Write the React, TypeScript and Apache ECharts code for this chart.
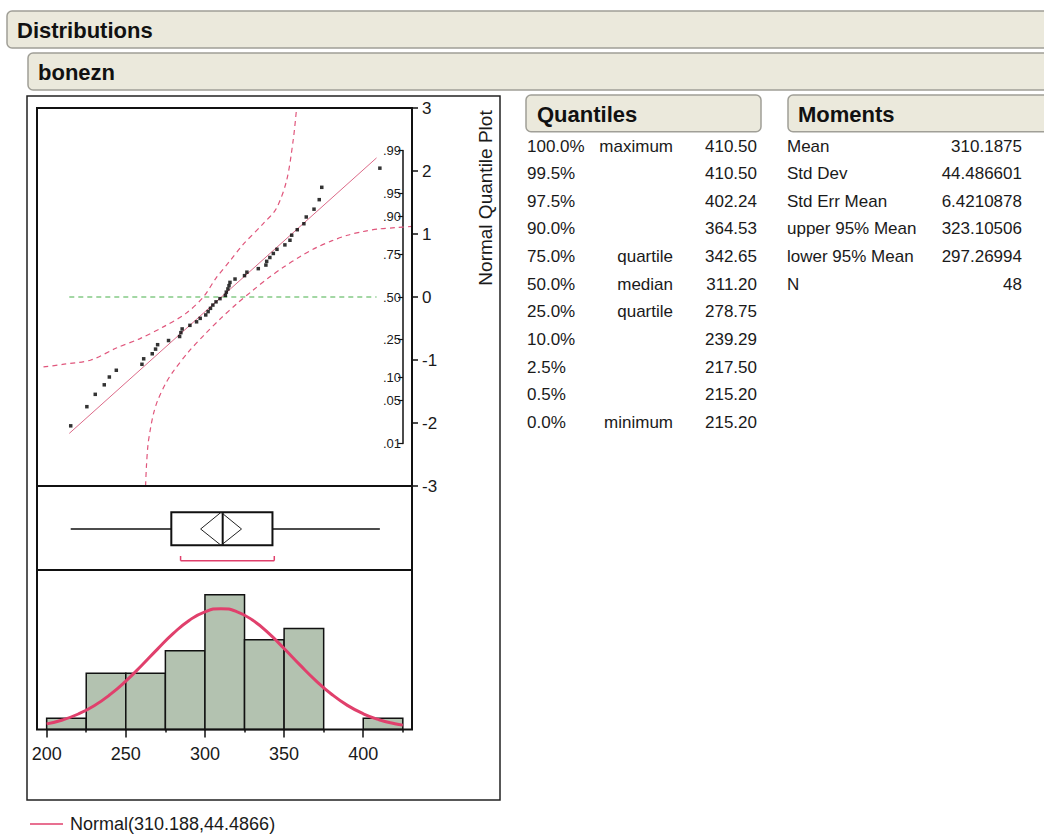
import React, { useEffect, useRef } from 'react';
import * as echarts from 'echarts';

// ---------- axes ----------
const xMin = 193.9;
const xMax = 430.8;
const xTickValues = [200, 250, 300, 350, 400];
const xMinorTickValues = [225, 275, 325, 375, 425];
const probLabels = ['.01', '.05', '.10', '.25', '.50', '.75', '.90', '.95', '.99'];
const probZ = [-2.326, -1.645, -1.282, -0.674, 0, 0.674, 1.282, 1.645, 2.326];

// ---------- normal quantile plot ----------
const qqValues = [
  215.2, 225.4, 230.7, 236.4, 239.6, 244.0, 260.2, 261.3, 266.7, 268.8, 270.1, 277.0,
  284.0, 284.8, 285.6, 290.5, 294.7, 297.0, 300.5, 302.0, 303.5, 305.0, 307.0, 309.5,
  312.9, 313.5, 314.5, 315.2, 315.8, 319.0, 325.0, 326.5, 333.7, 338.5, 339.0, 341.0,
  343.2, 345.5, 350.5, 353.7, 354.8, 358.3, 362.5, 364.0, 368.9, 372.2, 373.8, 410.5,
];
const qqScores = [
  -2.045, -1.741, -1.545, -1.394, -1.27, -1.163, -1.068, -0.981, -0.901, -0.827, -0.757, -0.691,
  -0.627, -0.566, -0.507, -0.45, -0.394, -0.339, -0.285, -0.232, -0.18, -0.128, -0.077, -0.026,
  0.026, 0.077, 0.128, 0.18, 0.232, 0.285, 0.339, 0.394, 0.45, 0.507, 0.566, 0.627,
  0.691, 0.757, 0.827, 0.901, 0.981, 1.068, 1.163, 1.27, 1.394, 1.545, 1.741, 2.045,
];
const fitLineX = [214.3, 408.4];
const fitLineZ = [-2.165, 2.208];
const refLineZ = [0, 0];
const upperBandX = [198, 210, 228, 244, 259, 274, 288, 299, 307, 316, 324, 337, 345, 351.6, 355.8, 357.9];
const upperBandZ = [-1.11, -1.07, -1.0, -0.81, -0.66, -0.47, -0.26, 0.0, 0.3, 0.58, 0.83, 1.17, 1.4, 1.85, 2.5, 3.0];
const lowerBandX = [262.5, 263, 264, 265.5, 267.5, 270, 275, 280, 290, 300, 310, 320, 330, 340, 350, 360, 370, 380, 390, 400, 410, 420, 430.8];
const lowerBandZ = [-3.0, -2.7, -2.35, -2.1, -1.85, -1.65, -1.38, -1.18, -0.86, -0.59, -0.34, -0.11, 0.1, 0.3, 0.48, 0.64, 0.78, 0.89, 0.98, 1.04, 1.08, 1.1, 1.12];

// ---------- outlier box plot ----------
const boxFive = [215.2, 278.75, 311.2, 342.65, 410.5]; // min, q1, median, q3, max
const meanDiamond = [297.26994, 310.1875, 323.10506]; // lower95, mean, upper95
const shortestHalf = [284.6, 343.8];

// ---------- histogram ----------
const binStarts = [200, 225, 250, 275, 300, 325, 350, 375, 400];
const binEnds = [225, 250, 275, 300, 325, 350, 375, 400, 425];
const binCounts = [1, 5, 5, 7, 12, 8, 9, 0, 1];
const histMax = 14.2;
const normalX = [200, 210, 220, 230, 240, 250, 260, 270, 280, 290, 300, 310, 320, 330, 340, 350, 360, 370, 380, 390, 400, 410, 420, 425];
const normalY = [0.5, 0.85, 1.38, 2.12, 3.1, 4.31, 5.7, 7.16, 8.55, 9.71, 10.48, 10.76, 10.5, 9.74, 8.6, 7.21, 5.75, 4.36, 3.14, 2.15, 1.4, 0.87, 0.51, 0.39];

// ---------- tables ----------
const quantilePct = ['100.0%', '99.5%', '97.5%', '90.0%', '75.0%', '50.0%', '25.0%', '10.0%', '2.5%', '0.5%', '0.0%'];
const quantileLabel = ['maximum', '', '', '', 'quartile', 'median', 'quartile', '', '', '', 'minimum'];
const quantileValue = ['410.50', '410.50', '402.24', '364.53', '342.65', '311.20', '278.75', '239.29', '217.50', '215.20', '215.20'];
const momentNames = ['Mean', 'Std Dev', 'Std Err Mean', 'upper 95% Mean', 'lower 95% Mean', 'N'];
const momentValues = ['310.1875', '44.486601', '6.4210878', '323.10506', '297.26994', '48'];
const legendLabel = 'Normal(310.188,44.4866)';

const FONT = '"Liberation Sans", Arial, sans-serif';
const PINK = '#e0406c';

function zip(a: number[], b: number[]) {
  return a.map((v, i) => [v, b[i]]);
}

function headerBar(x: number, y: number, w: number, h: number, label: string, tx: number) {
  return [
    {
      type: 'rect',
      shape: { x, y, width: w, height: h, r: 5 },
      style: { fill: '#ebe9dc', stroke: '#a09f97', lineWidth: 1.5 },
      z: 20,
    },
    {
      type: 'text',
      x: tx,
      y: y + h / 2 + 1,
      style: {
        text: label,
        font: `bold 22px ${FONT}`,
        fill: '#111',
        textAlign: 'left',
        textVerticalAlign: 'middle',
      },
      z: 21,
    },
  ];
}

export default function App() {
  const ref = useRef<HTMLDivElement>(null);

  useEffect(() => {
    if (!ref.current) return;
    const chart = echarts.init(ref.current, undefined, { renderer: 'svg' });

    const rowY = (i: number) => 146 + 27.65 * i;
    const textEl = (x: number, y: number, text: string, align: string, size = 17, bold = false) => ({
      type: 'text',
      x,
      y,
      style: {
        text,
        font: `${bold ? 'bold ' : ''}${size}px ${FONT}`,
        fill: '#1a1a1a',
        textAlign: align,
        textVerticalAlign: 'middle',
      },
      z: 21,
    });

    const tableEls: any[] = [];
    quantilePct.forEach((p, i) => {
      tableEls.push(textEl(527, rowY(i), p, 'left'));
      if (quantileLabel[i]) tableEls.push(textEl(673, rowY(i), quantileLabel[i], 'right'));
      tableEls.push(textEl(757, rowY(i), quantileValue[i], 'right'));
    });
    momentNames.forEach((m, i) => {
      tableEls.push(textEl(787, rowY(i), m, 'left'));
      tableEls.push(textEl(1022, rowY(i), momentValues[i], 'right'));
    });

    const histData = binStarts.map((s, i) => [s, binEnds[i], binCounts[i]]);

    const option: any = {
      animation: false,
      backgroundColor: '#ffffff',
      grid: [
        { left: 37, top: 108, width: 375, height: 378 },
        { left: 37, top: 486, width: 375, height: 84 },
        { left: 37, top: 570, width: 375, height: 159.5 },
        { left: 403, top: 150.5, width: 1, height: 293 },
      ],
      xAxis: [
        { gridIndex: 0, type: 'value', min: xMin, max: xMax, show: false },
        { gridIndex: 1, type: 'value', min: xMin, max: xMax, show: false },
        {
          gridIndex: 2,
          type: 'value',
          min: xMin,
          max: xMax,
          axisLine: { show: false },
          splitLine: { show: false },
          axisTick: { show: true, customValues: xTickValues, length: 8, lineStyle: { color: '#111', width: 1.5 } },
          axisLabel: { customValues: xTickValues, fontSize: 18, fontFamily: FONT, color: '#1a1a1a', margin: 15 },
        },
        {
          gridIndex: 2,
          type: 'value',
          min: xMin,
          max: xMax,
          position: 'bottom',
          axisLine: { show: false },
          splitLine: { show: false },
          axisTick: { show: true, customValues: xMinorTickValues, length: 3, lineStyle: { color: '#111', width: 1.5 } },
          axisLabel: { show: false },
        },
        { gridIndex: 3, type: 'value', min: 0, max: 1, show: false },
      ],
      yAxis: [
        {
          gridIndex: 0,
          type: 'value',
          min: -3,
          max: 3,
          interval: 1,
          position: 'right',
          axisLine: { show: true, lineStyle: { color: '#111', width: 1.5 } },
          axisTick: { show: true, length: 6, lineStyle: { color: '#111', width: 1.5 } },
          axisLabel: { fontSize: 17, fontFamily: FONT, color: '#1a1a1a', margin: 10 },
          splitLine: { show: false },
        },
        { gridIndex: 1, type: 'value', min: 0, max: 1, show: false },
        { gridIndex: 2, type: 'value', min: 0, max: histMax, show: false },
        {
          gridIndex: 3,
          type: 'value',
          min: -2.326,
          max: 2.326,
          position: 'left',
          axisLine: { show: true, lineStyle: { color: '#111', width: 1.5 } },
          axisTick: { show: true, customValues: probZ, length: 5, lineStyle: { color: '#111', width: 1.2 } },
          axisLabel: {
            customValues: probZ,
            fontSize: 13,
            fontFamily: FONT,
            color: '#1a1a1a',
            margin: 2,
            formatter: (v: number) => {
              const i = probZ.findIndex((z) => Math.abs(z - v) < 1e-6);
              return i >= 0 ? probLabels[i] : '';
            },
          },
          splitLine: { show: false },
        },
      ],
      series: [
        {
          type: 'line',
          xAxisIndex: 0,
          yAxisIndex: 0,
          data: zip(fitLineX, refLineZ),
          symbol: 'none',
          lineStyle: { color: '#48b04a', width: 1.2, type: [5, 4] },
          z: 2,
        },
        {
          type: 'line',
          xAxisIndex: 0,
          yAxisIndex: 0,
          data: zip(upperBandX, upperBandZ),
          smooth: 0.3,
          symbol: 'none',
          lineStyle: { color: '#e0567c', width: 1.2, type: [5, 4] },
          z: 2,
        },
        {
          type: 'line',
          xAxisIndex: 0,
          yAxisIndex: 0,
          data: zip(lowerBandX, lowerBandZ),
          smooth: 0.3,
          symbol: 'none',
          lineStyle: { color: '#e0567c', width: 1.2, type: [5, 4] },
          z: 2,
        },
        {
          type: 'line',
          xAxisIndex: 0,
          yAxisIndex: 0,
          data: zip(fitLineX, fitLineZ),
          symbol: 'none',
          lineStyle: { color: '#dc6a88', width: 1 },
          z: 3,
        },
        {
          type: 'scatter',
          xAxisIndex: 0,
          yAxisIndex: 0,
          data: zip(qqValues, qqScores),
          symbol: 'rect',
          symbolSize: 3.5,
          itemStyle: { color: '#000' },
          z: 4,
        },
        {
          type: 'custom',
          xAxisIndex: 1,
          yAxisIndex: 1,
          data: [[...boxFive, ...meanDiamond, ...shortestHalf]],
          encode: { x: [0, 4], y: [] },
          renderItem: (params: any, api: any) => {
            const v = (i: number) => api.value(i);
            const c = (x: number, y: number) => api.coord([x, y]);
            const yMid = 0.488, yTop = 0.687, yBot = 0.294, yBr = 0.111, yBrTop = 0.167;
            const black = { stroke: '#111', lineWidth: 1.5 };
            const pink = { stroke: PINK, lineWidth: 1.5 };
            const line = (a: number[], b: number[], style: any) => ({
              type: 'line',
              shape: { x1: a[0], y1: a[1], x2: b[0], y2: b[1] },
              style,
            });
            const tl = c(v(1), yTop);
            const br = c(v(3), yBot);
            return {
              type: 'group',
              children: [
                line(c(v(0), yMid), c(v(1), yMid), black),
                line(c(v(3), yMid), c(v(4), yMid), black),
                {
                  type: 'rect',
                  shape: { x: tl[0], y: tl[1], width: br[0] - tl[0], height: br[1] - tl[1] },
                  style: { fill: 'none', stroke: '#111', lineWidth: 2 },
                },
                line(c(v(2), yTop), c(v(2), yBot), { stroke: '#111', lineWidth: 2 }),
                {
                  type: 'polygon',
                  shape: {
                    points: [c(v(5), yMid), c(v(6), yTop), c(v(7), yMid), c(v(6), yBot)],
                  },
                  style: { fill: 'none', stroke: '#222', lineWidth: 1 },
                },
                line(c(v(8), yBr), c(v(9), yBr), pink),
                line(c(v(8), yBr), c(v(8), yBrTop), pink),
                line(c(v(9), yBr), c(v(9), yBrTop), pink),
              ],
            };
          },
          z: 3,
        },
        {
          type: 'custom',
          xAxisIndex: 2,
          yAxisIndex: 2,
          data: histData,
          encode: { x: [0, 1], y: 2 },
          renderItem: (params: any, api: any) => {
            const cnt = api.value(2);
            if (!cnt) return null;
            const p0 = api.coord([api.value(0), cnt]);
            const p1 = api.coord([api.value(1), 0]);
            return {
              type: 'rect',
              shape: { x: p0[0], y: p0[1], width: p1[0] - p0[0], height: p1[1] - p0[1] },
              style: { fill: '#b3c2b0', stroke: '#111', lineWidth: 1.5 },
            };
          },
          z: 2,
        },
        {
          type: 'line',
          xAxisIndex: 2,
          yAxisIndex: 2,
          data: zip(normalX, normalY),
          smooth: true,
          symbol: 'none',
          lineStyle: { color: PINK, width: 3 },
          z: 4,
        },
      ],
      graphic: {
        elements: [
          ...headerBar(7, 11, 1060, 37, 'Distributions', 17),
          ...headerBar(28, 53, 1040, 37, 'bonezn', 38),
          {
            type: 'rect',
            shape: { x: 27, y: 96, width: 473, height: 704 },
            style: { fill: 'none', stroke: '#222', lineWidth: 1.5 },
            z: 20,
          },
          {
            type: 'rect',
            shape: { x: 37, y: 108, width: 375, height: 621.5 },
            style: { fill: 'none', stroke: '#111', lineWidth: 2 },
            z: 20,
          },
          { type: 'line', shape: { x1: 37, y1: 486, x2: 412, y2: 486 }, style: { stroke: '#111', lineWidth: 2 }, z: 20 },
          { type: 'line', shape: { x1: 37, y1: 570, x2: 412, y2: 570 }, style: { stroke: '#111', lineWidth: 2 }, z: 20 },
          {
            type: 'text',
            x: 485,
            y: 198,
            rotation: Math.PI / 2,
            style: {
              text: 'Normal Quantile Plot',
              font: `19px ${FONT}`,
              fill: '#1a1a1a',
              textAlign: 'center',
              textVerticalAlign: 'middle',
            },
            z: 21,
          },
          ...headerBar(526, 95, 235, 36.7, 'Quantiles', 537),
          ...headerBar(788, 95, 270, 36.7, 'Moments', 798),
          ...tableEls,
          { type: 'line', shape: { x1: 30, y1: 824, x2: 63, y2: 824 }, style: { stroke: PINK, lineWidth: 1.5 }, z: 21 },
          {
            type: 'text',
            x: 70,
            y: 824,
            style: {
              text: legendLabel,
              font: `18px ${FONT}`,
              fill: '#1a1a1a',
              textAlign: 'left',
              textVerticalAlign: 'middle',
            },
            z: 21,
          },
        ],
      },
    };

    chart.setOption(option);
    return () => {
      chart.dispose();
    };
  }, []);

  return (
    <div
      ref={ref}
      style={{ position: 'absolute', left: 0, top: 0, width: 1044, height: 835, background: '#fff' }}
    />
  );
}
